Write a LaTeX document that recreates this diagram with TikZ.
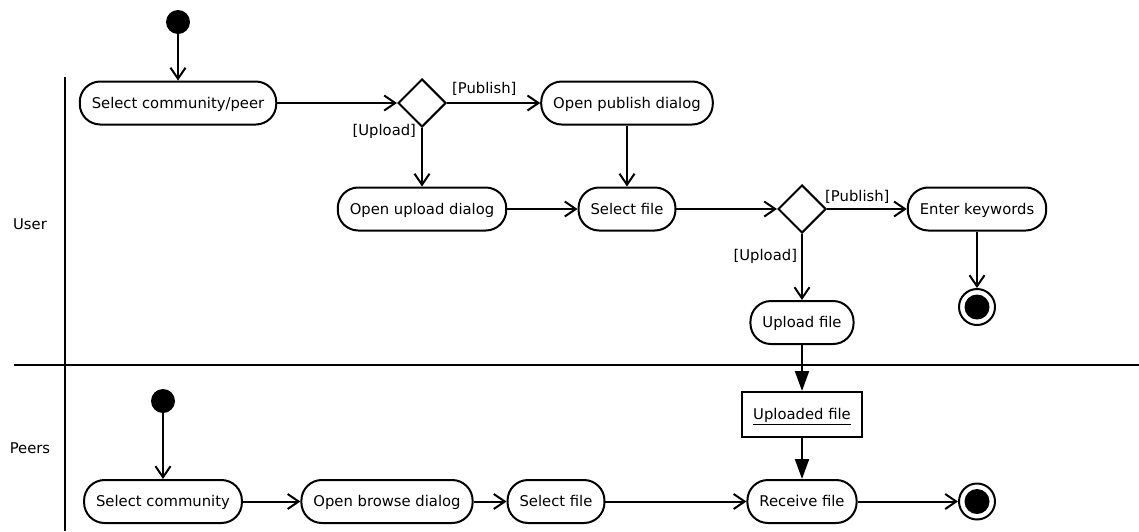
\documentclass[tikz,border=0pt]{standalone}
\usepackage{fontspec}
\setmainfont{DejaVu Sans}
\usetikzlibrary{arrows.meta,shapes.geometric}
\begin{document}
\begin{tikzpicture}[x=1pt,y=-1pt,
  every node/.style={font=\fontsize{14.8}{17}\selectfont},
  action/.style={draw,line width=2pt,rounded corners=20.5pt,minimum height=43pt,inner xsep=12pt,inner ysep=0pt,text height=12pt,text depth=1.5pt,fill=white},
  objbox/.style={draw,line width=2pt,minimum height=45pt,inner xsep=11pt,text height=12pt,text depth=1.5pt,fill=white},
  decision/.style={draw,line width=2pt,diamond,aspect=1,minimum width=48pt,minimum height=48pt,inner sep=0pt},
  initial/.style={circle,fill=black,minimum size=24pt,inner sep=0pt},
  final/.style={circle,draw,line width=2pt,minimum size=36pt,inner sep=0pt,path picture={\fill (path picture bounding box.center) circle (12.5pt);}},
  flow/.style={line width=2pt,-{Straight Barb[length=11pt,width=15pt,line width=2pt]}},
  objflow/.style={line width=2pt,-{Triangle[length=20pt,width=14pt]}},
  guard/.style={inner sep=0pt},
  lane/.style={line width=2pt}]
\useasboundingbox (0,0) rectangle (1139,531);

% swimlane separators
\coordinate (laneTop) at (65,77);
\coordinate (laneBot) at (65,531);
\coordinate (sepL) at (14,365);
\coordinate (sepR) at (1139,365);
\draw[lane] (laneTop) -- (laneBot);
\draw[lane] (sepL) -- (sepR);
\node (userlbl) at (30,224) {User};
\node (peerslbl) at (30,448) {Peers};

% user lane
\node[initial] (ustart) at (178,22) {};
\node[action] (selcp) at (178,103) {Select community/peer};
\node[decision] (d1) at (422,103) {};
\node[action] (openpub) at (627,103) {Open publish dialog};
\node[action] (openup) at (422,209) {Open upload dialog};
\node[action] (selfile) at (627,209) {Select file};
\node[decision] (d2) at (802,209) {};
\node[action] (enterkw) at (977,209) {Enter keywords};
\node[final] (uend) at (977,307) {};
\node[action] (upfile) at (802,322.5) {Upload file};

% peers lane
\node[objbox] (upobj) at (802,414.5) {\underline{Uploaded file}};
\node[initial] (pstart) at (163,401) {};
\node[action] (selcomm) at (163,501.5) {Select community};
\node[action] (openbr) at (387,501.5) {Open browse dialog};
\node[action] (pselfile) at (556,501.5) {Select file};
\node[action] (recv) at (802,501.5) {Receive file};
\node[final] (pend) at (977,501.5) {};

% control flows
\draw[flow] (ustart) -- (selcp);
\draw[flow] (selcp) -- (d1.west);
\draw[flow] (d1.east) -- node[guard,pos=0.4,above=7pt] (g1) {[Publish]} (openpub);
\draw[flow] (d1.south) -- node[guard,pos=0.05,left=5pt] (g2) {[Upload]} (openup);
\draw[flow] (openpub) -- (selfile);
\draw[flow] (openup) -- (selfile);
\draw[flow] (selfile) -- (d2.west);
\draw[flow] (d2.east) -- node[guard,pos=0.38,above=5pt] (g3) {[Publish]} (enterkw);
\draw[flow] (d2.south) -- node[guard,pos=0.34,left=4pt] (g4) {[Upload]} (upfile);
\draw[flow] (enterkw) -- (uend);
\draw[flow] (pstart) -- (selcomm);
\draw[flow] (selcomm) -- (openbr);
\draw[flow] (openbr) -- (pselfile);
\draw[flow] (pselfile) -- (recv);
\draw[flow] (recv) -- (pend);

% object flows
\draw[objflow] (upfile) -- (upobj);
\draw[objflow] (upobj) -- (recv);
\end{tikzpicture}
\end{document}
